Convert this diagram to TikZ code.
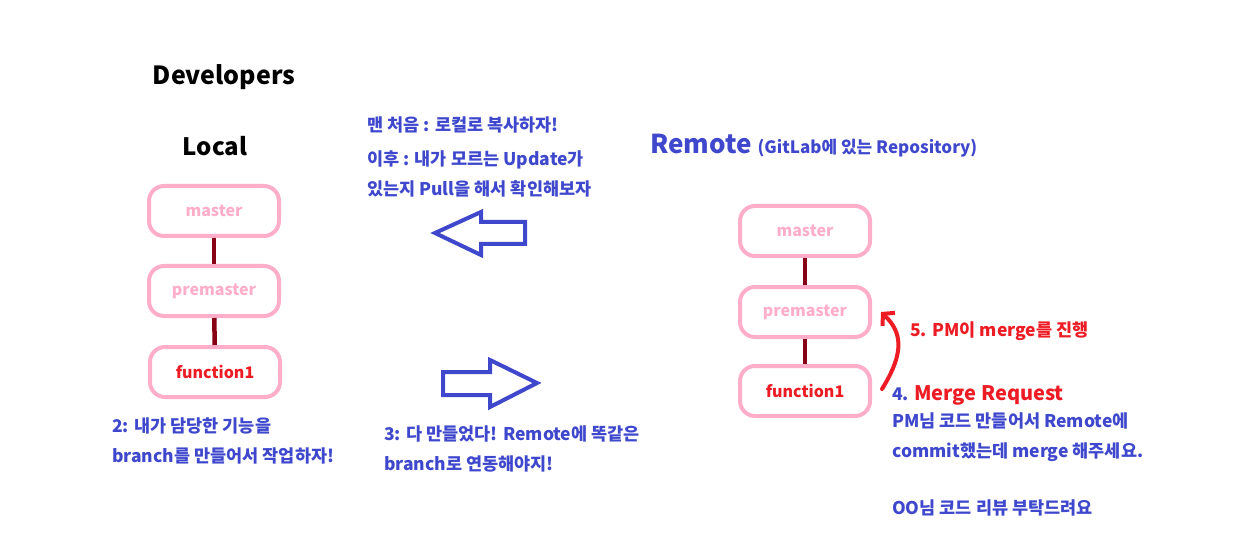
\documentclass[tikz,border=0pt]{standalone}
\usepackage{fontspec}
\setmainfont{Noto Sans CJK KR}
\usepackage{xcolor}
\usetikzlibrary{arrows.meta,calc}

\definecolor{pblue}{HTML}{3F48CC}
\definecolor{ppink}{HTML}{FFAEC9}
\definecolor{pwine}{HTML}{880015}
\definecolor{pred}{HTML}{ED1C24}

\tikzset{
  branch/.style={draw=ppink, line width=4pt, rounded corners=15pt,
    minimum width=130pt, minimum height=50pt, font=\bfseries\fontsize{16}{19}\selectfont},
  link/.style={pwine, line width=4.5pt},
  note/.style={anchor=west, inner sep=0pt, align=left, text=pblue,
    font=\bfseries\fontsize{17.5}{30}\selectfont},
  bigarrow/.style={draw=pblue, line width=4pt, line join=miter},
}

\begin{document}
\begin{tikzpicture}[>=Latex, x=1pt, y=-1pt]
  \useasboundingbox (0,0) rectangle (1236,537);

  % headings
  \node[font=\bfseries\fontsize{25}{28}\selectfont] (dev) at (224,77) {Developers};
  \node[font=\bfseries\fontsize{24}{28}\selectfont] (loc) at (215,146) {Local};
  \node[anchor=west, inner sep=0pt, text=pblue] (rem) at (650,146)
    {\bfseries\fontsize{26}{30}\selectfont Remote \fontsize{17}{20}\selectfont(GitLab에 있는 Repository)};

  % local branches
  \node[branch, text=ppink] (lmaster) at (214,211) {master};
  \node[branch, text=ppink] (lpre) at (214,291) {premaster};
  \node[branch, text=pred] (lfun) at (215,372) {function1};
  \draw[link] (lmaster) -- (lpre);
  \draw[link] (lpre) -- (lfun);

  % remote branches
  \node[branch, text=ppink] (rmaster) at (805,231) {master};
  \node[branch, text=ppink] (rpre) at (805,312) {premaster};
  \node[branch, text=pred] (rfun) at (805,391) {function1};
  \draw[link] (rmaster) -- (rpre);
  \draw[link] (rpre) -- (rfun);

  % pull / push arrows
  \draw[bigarrow] (435,233) -- (481,212) -- (481,222) -- (525,222)
    -- (525,244) -- (481,244) -- (481,255) -- cycle;
  \draw[bigarrow] (443,372) -- (490,372) -- (490,360) -- (537,383)
    -- (490,407) -- (490,395) -- (443,395) -- cycle;

  % notes
  \node[note] (pull) at (367,157)
    {맨 처음 : 로컬로 복사하자!\\[4pt]이후 : 내가 모르는 Update가\\있는지 Pull을 해서 확인해보자};
  \node[note] (step2) at (112,441)
    {2: 내가 담당한 기능을\\branch를 만들어서 작업하자!};
  \node[note] (step3) at (384,449)
    {3: 다 만들었다! Remote에 똑같은\\branch로 연동해야지!};
  \node[note, text=pred] (step5) at (910,331) {5. PM이 merge를 진행};
  \node[note, anchor=base west] (step4) at (892,400)
    {4. {\color{pred}\fontsize{20}{22}\selectfont Merge Request}};
  \node[note, anchor=north west] (req) at (892,413)
    {PM님 코드 만들어서 Remote에\\commit했는데 merge 해주세요.\\[27pt]OO님 코드 리뷰 부탁드려요};

  % merge arrow
  \coordinate (mfrom) at (882,389);
  \coordinate (mto) at (881,312);
  \draw[pred, line width=4pt, line cap=round, -{Straight Barb[length=8pt, width=18pt]}]
    (mfrom) .. controls (905,352) and (902,332) .. (mto);
\end{tikzpicture}
\end{document}
